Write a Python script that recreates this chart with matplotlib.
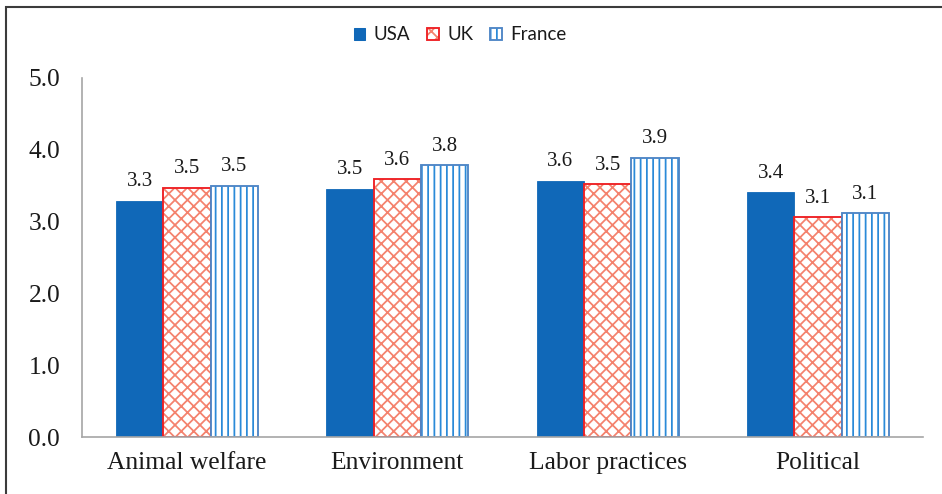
import numpy as np
import matplotlib
matplotlib.use('Agg')
import matplotlib.pyplot as plt
from matplotlib.patches import Rectangle
from matplotlib.colors import to_rgba

categories = ['Animal welfare', 'Environment', 'Labor practices', 'Political']
countries = ['USA', 'UK', 'France']

usa = [3.29, 3.46, 3.57, 3.41]
uk = [3.47, 3.59, 3.52, 3.06]
france = [3.50, 3.79, 3.89, 3.12]

yticks = [0.0, 1.0, 2.0, 3.0, 4.0, 5.0]

usa_color = '#1068b8'
uk_edge = '#ee2024'
uk_hatch = '#f4826e'
fr_edge = '#4f86c6'
fr_hatch = '#2a8ad8'

matplotlib.rcParams['hatch.linewidth'] = 1.7

# dpi 75 so the hatch unit is 75 px
fig = plt.figure(figsize=(942 / 75, 494 / 75), dpi=75)
ax = fig.add_axes([82 / 942, 1 - 437 / 494, (923 - 82) / 942, (437 - 78) / 494])

x = np.arange(len(categories))
w = 0.225

usa_bars = ax.bar(x - w, usa, w, color=usa_color, edgecolor=usa_color, linewidth=0.8)

# hatch layers first (hatch colour comes from rcParams when no edgecolor given), then the outlines
with plt.rc_context({'hatch.color': uk_hatch}):
    ax.bar(x, uk, w, facecolor='white', hatch='xx', linewidth=0)
ax.bar(x, uk, w, facecolor='none', edgecolor=uk_edge, linewidth=1.8)

with plt.rc_context({'hatch.color': fr_hatch}):
    ax.bar(x + w, france, w, facecolor='white', hatch='||', linewidth=0)
ax.bar(x + w, france, w, facecolor='none', edgecolor=fr_edge, linewidth=1.8)

# value labels
for offs, vals in zip([-w, 0, w], [usa, uk, france]):
    for xi, v in zip(x + offs, vals):
        ax.annotate(f"{v:.1f}", (xi, v), xytext=(0, 9), textcoords='offset points',
                    ha='center', va='bottom', fontsize=20, family='Liberation Serif', color='#1a1a1a')

ax.set_xlim(-0.5, len(categories) - 0.5)
ax.set_ylim(0, 5)
ax.set_yticks(yticks)
ax.set_yticklabels([f"{t:.1f}" for t in yticks])
ax.set_xticks(x)
ax.set_xticklabels(categories)

ax.tick_params(axis='both', length=0, labelsize=24.5, labelcolor='#1a1a1a')
ax.tick_params(axis='y', pad=21)
ax.tick_params(axis='x', pad=14)
for lab in ax.get_xticklabels() + ax.get_yticklabels():
    lab.set_family('Liberation Serif')

for s in ['top', 'right']:
    ax.spines[s].set_visible(False)
for s in ['left', 'bottom']:
    ax.spines[s].set_color('#a6a6a6')
    ax.spines[s].set_linewidth(1.6)

# legend proxies
h_usa = Rectangle((0, 0), 1, 1, facecolor=usa_color, edgecolor=usa_color)
h_uk = Rectangle((0, 0), 1, 1, facecolor='white', edgecolor=uk_edge, hatch='xx', linewidth=1.8)
h_uk._hatch_color = to_rgba(uk_hatch)
h_fr = Rectangle((0, 0), 1, 1, facecolor='white', edgecolor=fr_edge, hatch='||', linewidth=1.8)
h_fr._hatch_color = to_rgba(fr_hatch)

leg = fig.legend([h_usa, h_uk, h_fr], countries,
                 loc='center', bbox_to_anchor=(460 / 942, 1 - 35 / 494), ncol=3, frameon=False,
                 prop={'family': 'Lato', 'size': 18}, handlelength=0.62, handleheight=0.62,
                 handletextpad=0.45, columnspacing=0.9, borderpad=0)
for t in leg.get_texts():
    t.set_color('#1a1a1a')

# frame round the figure
fig.patches.append(Rectangle((6 / 942, -0.2), 1.2, 1.2 - 7 / 494, transform=fig.transFigure,
                             fill=False, edgecolor='#3c3c3c', linewidth=2, clip_on=False))

fig.savefig('out.png', dpi=75)
